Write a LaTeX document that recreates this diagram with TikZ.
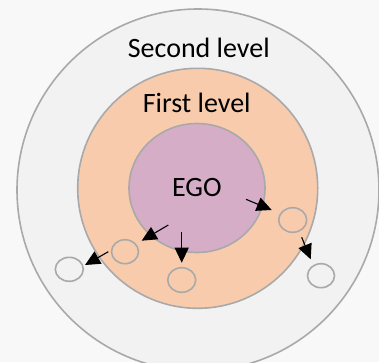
\documentclass[tikz,border=0pt]{standalone}
\usepackage{fontspec}
\setmainfont{Carlito}
\usetikzlibrary{arrows.meta}
\definecolor{bgc}{HTML}{F8F8F8}
\definecolor{outerc}{HTML}{F2F2F2}
\definecolor{midc}{HTML}{F8CBAD}
\definecolor{innc}{HTML}{D5ADC6}
\definecolor{edgec}{HTML}{A9A9A9}
\tikzset{
  ring/.style={draw=edgec, line width=1.6pt},
  lbl/.style={font=\fontsize{28}{31}\selectfont, text=black, inner sep=0pt, anchor=base},
  arr/.style={line width=1.1pt, -{Triangle[length=15pt,width=14pt]}}
}
\begin{document}
\begin{tikzpicture}[x=1pt,y=-1pt]
\useasboundingbox (0,0) rectangle (379,362);
\fill[bgc] (0,0) rectangle (379,362);
\begin{scope}
\clip (0,0) rectangle (379,362);
\draw[ring, fill=outerc] (198,190) circle (181);
\end{scope}
\draw[ring, fill=midc] (197.7,188.3) circle (120);
\draw[ring, fill=innc] (197,188) ellipse (68 and 64.5);
% member circles
\draw[ring] (125,251.7) ellipse (13.5 and 12) coordinate (m1);
\draw[ring] (69.3,269.3) ellipse (14 and 12) coordinate (m2);
\draw[ring] (181.7,280) ellipse (14 and 12.3) coordinate (m3);
\draw[ring] (292.7,220) ellipse (14 and 12.3) coordinate (m4);
\draw[ring] (321,275.7) ellipse (13.5 and 12) coordinate (m5);
% labels
\node[lbl] (second) at (198.8,57.3) {Second level};
\node[lbl] (first) at (196.7,112) {First level};
\node[lbl] (ego) at (196.8,196.7) {EGO};
% arrows
\coordinate (a1s) at (168.3,225);   \coordinate (a1e) at (141.7,240.7);
\coordinate (a2s) at (181.7,231.7); \coordinate (a2e) at (181.7,262.7);
\coordinate (a3s) at (108.3,251.7); \coordinate (a3e) at (85,265);
\coordinate (a4s) at (246,199.3);   \coordinate (a4e) at (271.7,210);
\coordinate (a5s) at (301.7,237.3); \coordinate (a5e) at (310.7,259.3);
\draw[arr] (a1s) -- (a1e);
\draw[arr] (a2s) -- (a2e);
\draw[arr] (a3s) -- (a3e);
\draw[arr] (a4s) -- (a4e);
\draw[arr] (a5s) -- (a5e);
\end{tikzpicture}
\end{document}
